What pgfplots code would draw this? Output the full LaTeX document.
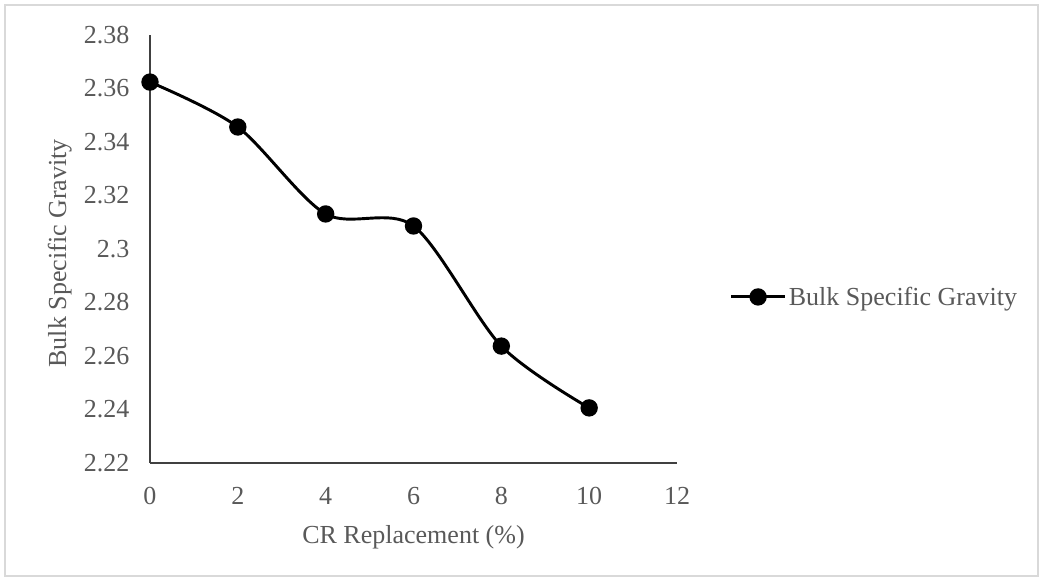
\documentclass[border=0pt]{standalone}
\usepackage{pgfplots}
\pgfplotsset{compat=1.18}
\usepackage{fontspec}
\setmainfont{Liberation Serif}
\definecolor{txtgray}{HTML}{595959}
\definecolor{bordergray}{HTML}{D9D9D9}
\begin{document}
\begin{tikzpicture}
\useasboundingbox (0pt,0pt) rectangle (782.25pt,435.75pt);
\draw[bordergray, line width=1.1pt] (3.75pt,3.75pt) rectangle (778.5pt,432pt);
\begin{axis}[
  at={(112.5pt,88.5pt)}, anchor=south west,
  scale only axis, width=395.25pt, height=321pt,
  xmin=0, xmax=12, ymin=2.22, ymax=2.38,
  xtick={0,2,4,6,8,10,12},
  ytick={2.22,2.24,2.26,2.28,2.30,2.32,2.34,2.36,2.38},
  yticklabels={2.22,2.24,2.26,2.28,2.3,2.32,2.34,2.36,2.38},
  axis x line=bottom, axis y line=left,
  axis line style={-, black!75, line width=1pt},
  major tick length=0pt,
  /pgf/number format/assume math mode=true,
  tick label style={font=\fontsize{19.5}{22}\selectfont, text=txtgray},
  xticklabel style={yshift=-15pt},
  yticklabel style={xshift=-12pt},
  label style={font=\fontsize{19.5}{22}\selectfont, text=txtgray},
  xlabel={CR Replacement (\%)},
  ylabel={Bulk Specific Gravity},
  xlabel style={at={(axis description cs:0.5,-0.173)}, anchor=center},
  ylabel style={at={(axis description cs:-0.171,0.49)}, anchor=center, rotate=0},
  legend style={at={(axis description cs:1.10,0.388)}, anchor=west, draw=none, fill=none,
    font=\fontsize{19.5}{22}\selectfont, text=txtgray, inner sep=0pt},
  legend image code/.code={\draw[mark repeat=2,mark phase=2,#1] plot coordinates {(0pt,0pt)(20pt,0pt)(40pt,0pt)};},
  clip=false,
]
\addplot[black, line width=2.2pt, smooth, mark=*, mark size=5.4pt, mark options={fill=black}]
  coordinates {(0,2.3624) (2,2.3456) (4,2.3131) (6,2.3086) (8,2.2637) (10,2.2406)};
\addlegendentry{Bulk Specific Gravity}
\end{axis}
\end{tikzpicture}
\end{document}
